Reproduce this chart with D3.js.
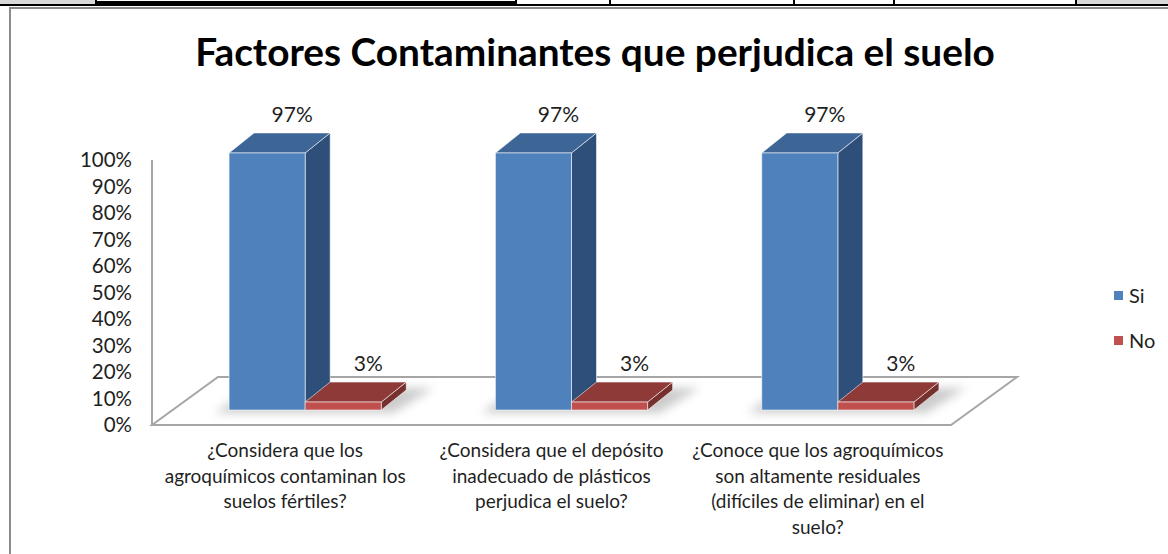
<!DOCTYPE html>
<html>
<head>
<meta charset="utf-8">
<script src="https://cdn.jsdelivr.net/npm/d3@7"></script>
<style>
  body { margin: 0; background: #fff; }
  text { font-family: Lato, "Open Sans", sans-serif; fill: #1f1f1f; }
</style>
</head>
<body>
<div class="chart"></div>
<script>
var title = "Factores Contaminantes que perjudica el suelo";
var categories = [
  ["¿Considera que los", "agroquímicos contaminan los", "suelos fértiles?"],
  ["¿Considera que el depósito", "inadecuado de plásticos", "perjudica el suelo?"],
  ["¿Conoce que los agroquímicos", "son altamente residuales", "(difíciles de eliminar) en el", "suelo?"]
];
var seriesNames = ["Si", "No"];
var siValues = [0.97, 0.97, 0.97];
var noValues = [0.03, 0.03, 0.03];
var yTicks = [0, 0.1, 0.2, 0.3, 0.4, 0.5, 0.6, 0.7, 0.8, 0.9, 1];

var svgWidth = 1168;
var svgHeight = 554;

// front plane of the 3d box
var plot = { left: 152, right: 951, top: 160, bottom: 425 };
var floorDepth = { dx: 66, dy: -48 };   // full depth of the floor
var barOffset = { dx: 20, dy: -15 };    // front face of the bars sits a bit back
var barDepth = { dx: 25, dy: -20 };

var colors = {
  Si: { front: "#4f81bd", top: "#3d6696", side: "#2f4f7b" },
  No: { front: "#c0504d", top: "#8e3a38", side: "#76302e" }
};

var svg = d3.select(".chart")
  .append("svg")
  .attr("width", svgWidth)
  .attr("height", svgHeight);

var defs = svg.append("defs");
defs.append("filter")
  .attr("id", "blur")
  .attr("x", "-50%").attr("y", "-50%")
  .attr("width", "200%").attr("height", "200%")
  .append("feGaussianBlur")
  .attr("stdDeviation", 5);

// spreadsheet row peeking in at the top
svg.append("rect").attr("x", 0).attr("y", 0).attr("width", 95).attr("height", 4).attr("fill", "#d9d9d9");
svg.append("rect").attr("x", 1077).attr("y", 0).attr("width", 91).attr("height", 4).attr("fill", "#d9d9d9");
svg.append("line").attr("x1", 0).attr("x2", svgWidth).attr("y1", 5).attr("y2", 5)
  .attr("stroke", "#000").attr("stroke-width", 2);
svg.append("rect").attr("x", 96).attr("y", 1).attr("width", 420).attr("height", 5).attr("fill", "#000");
[96, 516, 610, 794, 894, 1076].forEach(function(x) {
  svg.append("line").attr("x1", x).attr("x2", x).attr("y1", 0).attr("y2", 6)
    .attr("stroke", "#000").attr("stroke-width", 2);
});

// chart frame
svg.append("line").attr("x1", 9).attr("x2", svgWidth).attr("y1", 8).attr("y2", 8)
  .attr("stroke", "#8a8a8a").attr("stroke-width", 2);
svg.append("line").attr("x1", 10).attr("x2", 10).attr("y1", 8).attr("y2", svgHeight)
  .attr("stroke", "#8a8a8a").attr("stroke-width", 2);

// title
svg.append("text")
  .attr("x", 595)
  .attr("y", 66)
  .attr("text-anchor", "middle")
  .style("font-size", "38.8px")
  .style("font-weight", "bold")
  .style("fill", "#000")
  .text(title);

// scales
var xScale = d3.scaleBand()
  .domain(d3.range(categories.length))
  .range([plot.left, plot.right]);

var xSeries = d3.scaleBand()
  .domain(seriesNames)
  .range([0, xScale.bandwidth()])
  .paddingOuter(0.75);

var yScale = d3.scaleLinear()
  .domain([0, 1])
  .range([plot.bottom, plot.top]);

// y axis labels
var leftAxis = d3.axisLeft(yScale)
  .tickValues(yTicks)
  .tickFormat(d3.format(".0%"))
  .tickSize(0)
  .tickPadding(0);

var yAxis = svg.append("g")
  .attr("transform", "translate(132,0)")
  .call(leftAxis);
yAxis.select(".domain").remove();
yAxis.selectAll("text")
  .style("font-size", "20.5px")
  .style("font-family", "Lato, 'Open Sans', sans-serif")
  .attr("fill", "#1f1f1f");

// floor and wall edge
var y0 = yScale(0);
var floorPts = [
  [plot.left, y0],
  [plot.right, y0],
  [plot.right + floorDepth.dx, y0 + floorDepth.dy],
  [plot.left + floorDepth.dx, y0 + floorDepth.dy]
];
svg.append("polygon")
  .attr("points", floorPts.map(function(p) { return p.join(","); }).join(" "))
  .attr("fill", "#fff")
  .attr("stroke", "#a6a6a6")
  .attr("stroke-width", 2);

svg.append("line")
  .attr("x1", plot.left).attr("x2", plot.left)
  .attr("y1", yScale(1)).attr("y2", y0)
  .attr("stroke", "#a6a6a6")
  .attr("stroke-width", 2);

// bars
var barsGroup = svg.append("g");
var barBottom = y0 + barOffset.dy;

categories.forEach(function(cat, i) {
  var gx = xScale(i) + xSeries("Si") + barOffset.dx;
  var w = xSeries.bandwidth();

  // soft shadow on the floor
  var sh = [
    [gx - 14, barBottom + 3],
    [gx + 2 * w + 12, barBottom + 3],
    [gx + 2 * w + 52, barBottom - 22],
    [gx + 22, barBottom - 22]
  ];
  barsGroup.append("polygon")
    .attr("points", sh.map(function(p) { return p.join(","); }).join(" "))
    .attr("fill", "#808080")
    .attr("opacity", 0.4)
    .attr("filter", "url(#blur)");

  [["Si", siValues[i]], ["No", noValues[i]]].forEach(function(s) {
    var name = s[0], v = s[1];
    var x = xScale(i) + xSeries(name) + barOffset.dx;
    var yTop = yScale(v) + barOffset.dy;
    var c = colors[name];

    var side = [
      [x + w, yTop], [x + w + barDepth.dx, yTop + barDepth.dy],
      [x + w + barDepth.dx, barBottom + barDepth.dy], [x + w, barBottom]
    ];
    var top = [
      [x, yTop], [x + w, yTop],
      [x + w + barDepth.dx, yTop + barDepth.dy], [x + barDepth.dx, yTop + barDepth.dy]
    ];

    barsGroup.append("polygon")
      .attr("points", side.map(function(p) { return p.join(","); }).join(" "))
      .attr("fill", c.side)
      .attr("stroke", "rgba(255,255,255,0.55)")
      .attr("stroke-width", 1);
    barsGroup.append("polygon")
      .attr("points", top.map(function(p) { return p.join(","); }).join(" "))
      .attr("fill", c.top)
      .attr("stroke", "rgba(255,255,255,0.55)")
      .attr("stroke-width", 1);
    barsGroup.append("rect")
      .attr("x", x)
      .attr("y", yTop)
      .attr("width", w)
      .attr("height", barBottom - yTop)
      .attr("fill", c.front)
      .attr("stroke", "rgba(255,255,255,0.55)")
      .attr("stroke-width", 1);

    barsGroup.append("text")
      .attr("x", x + w / 2 + barDepth.dx)
      .attr("y", yTop + barDepth.dy - 11)
      .attr("text-anchor", "middle")
      .style("font-size", "21px")
      .text(d3.format(".0%")(v));
  });
});

// category labels
categories.forEach(function(lines, i) {
  var t = svg.append("text")
    .attr("text-anchor", "middle")
    .style("font-size", "19px");
  lines.forEach(function(line, j) {
    t.append("tspan")
      .attr("x", xScale(i) + xScale.bandwidth() / 2)
      .attr("y", 457 + j * 25.5)
      .text(line);
  });
});

// legend
var legend = svg.append("g")
  .attr("transform", "translate(1114, 291)");
seriesNames.forEach(function(name, i) {
  legend.append("rect")
    .attr("x", 0)
    .attr("y", i * 45)
    .attr("width", 9)
    .attr("height", 9)
    .attr("fill", colors[name].front);
  legend.append("text")
    .attr("x", 15)
    .attr("y", i * 45 + 12)
    .style("font-size", "20px")
    .text(name);
});
</script>
</body>
</html>
